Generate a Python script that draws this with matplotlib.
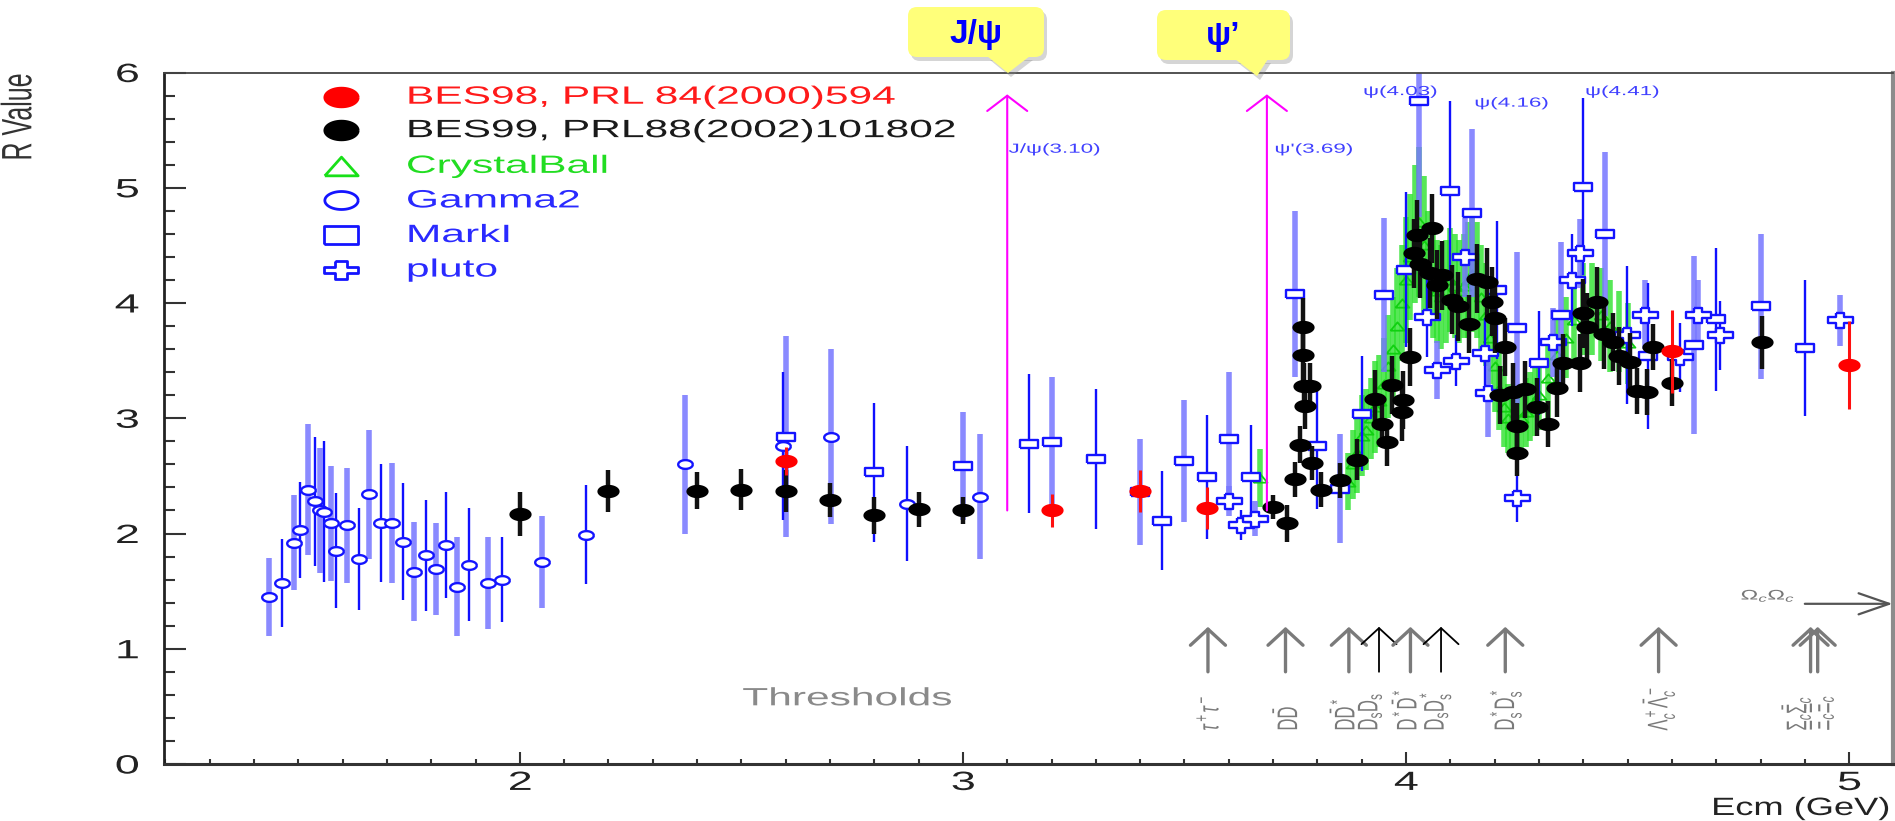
import numpy as np
import matplotlib
matplotlib.use('Agg')
import matplotlib.pyplot as plt
import matplotlib.patheffects as pe
from matplotlib.transforms import Affine2D
from matplotlib.patches import FancyBboxPatch, Polygon

plt.rcParams['font.family'] = ['Liberation Sans', 'DejaVu Sans']
plt.rcParams['mathtext.fontset'] = 'custom'
plt.rcParams['mathtext.rm'] = 'Liberation Sans'
plt.rcParams['mathtext.it'] = 'Liberation Sans:italic'
plt.rcParams['mathtext.bf'] = 'Liberation Sans:bold'

# ---------------- data ----------------
gamma2_x = [1.434, 1.463, 1.490, 1.505, 1.522, 1.538, 1.548, 1.557, 1.574, 1.585, 1.610,
            1.636, 1.660, 1.687, 1.712, 1.736, 1.762, 1.788, 1.810, 1.833, 1.858, 1.885,
            1.929, 1.959, 2.050, 2.150, 2.372, 2.593, 2.703, 2.873, 3.039]
gamma2_r = [1.45, 1.57, 1.92, 2.03, 2.38, 2.28, 2.20, 2.19, 2.09, 1.85, 2.07,
            1.78, 2.34, 2.09, 2.09, 1.93, 1.67, 1.81, 1.69, 1.90, 1.54, 1.73,
            1.57, 1.60, 1.75, 1.99, 2.60, 2.76, 2.84, 2.26, 2.32]
gamma2_err = [0.34, 0.38, 0.41, 0.42, 0.57, 0.56, 0.54, 0.61, 0.50, 0.50, 0.50,
              0.44, 0.56, 0.51, 0.52, 0.51, 0.43, 0.48, 0.40, 0.46, 0.43, 0.49,
              0.40, 0.37, 0.40, 0.43, 0.60, 0.64, 0.76, 0.50, 0.54]

markI_x = [2.60, 2.80, 3.00, 3.15, 3.20, 3.30, 3.40, 3.45, 3.50, 3.55, 3.60, 3.65,
           3.75, 3.80, 3.85, 3.90, 3.95, 4.00, 4.03, 4.10, 4.15, 4.205, 4.25, 4.30,
           4.35, 4.40, 4.45, 4.545, 4.65, 4.70, 4.80, 4.90]
markI_r = [2.84, 2.53, 2.585, 2.78, 2.79, 2.645, 2.36, 2.11, 2.63, 2.49, 2.82, 2.49,
           4.08, 2.76, 2.39, 3.04, 4.07, 4.29, 5.75, 4.97, 4.78, 4.11, 3.78, 3.48,
           3.90, 5.01, 4.60, 3.54, 3.635, 3.86, 3.97, 3.61]
markI_err = [0.87, 0.60, 0.47, 0.60, 0.57, 0.61, 0.46, 0.43, 0.53, 0.54, 0.58, 0.45,
             0.72, 0.55, 0.47, 0.50, 0.67, 0.67, 1.00, 0.78, 0.73, 0.60, 0.66, 0.45,
             0.63, 0.77, 0.71, 0.63, 0.77, 0.62, 0.63, 0.59]

pluto_x = [3.600, 3.628, 3.659, 4.047, 4.069, 4.113, 4.133, 4.178, 4.186, 4.250,
           4.331, 4.374, 4.392, 4.498, 4.540, 4.618, 4.660, 4.709, 4.980]
pluto_r = [2.28, 2.07, 2.13, 3.88, 3.42, 3.50, 4.40, 3.57, 3.22, 2.31,
           3.66, 4.20, 4.43, 3.72, 3.90, 3.53, 3.90, 3.72, 3.85]
pluto_err = [0.13, 0.13, 0.15, 0.35, 0.25, 0.22, 0.35, 0.30, 0.38, 0.21,
             0.30, 0.40, 0.30, 0.60, 0.30, 0.30, 0.30, 0.30, 0.22]

cb_x = [3.671, 3.87, 3.88, 3.89, 3.90, 3.91, 3.92, 3.93, 3.94, 3.95, 3.96, 3.97, 3.98,
        3.99, 4.00, 4.01, 4.02, 4.03, 4.04, 4.05, 4.06, 4.07, 4.08, 4.09, 4.10,
        4.11, 4.12, 4.13, 4.14, 4.15, 4.16, 4.17, 4.18, 4.19, 4.20, 4.21, 4.22,
        4.23, 4.24, 4.25, 4.26, 4.27, 4.28, 4.29, 4.30, 4.32, 4.34, 4.36, 4.38,
        4.40, 4.42, 4.44, 4.46, 4.48, 4.50]
cb_r = [2.48, 2.45, 2.60, 2.70, 2.85, 2.90, 3.00, 3.10, 3.15, 3.30, 3.45, 3.60, 3.80,
        4.00, 4.20, 4.40, 4.60, 4.70, 4.50, 4.30, 4.15, 4.10, 4.05, 4.10, 4.20,
        4.15, 4.10, 4.15, 4.20, 4.25, 4.20, 4.05, 3.90, 3.70, 3.45, 3.25, 3.10,
        3.00, 2.95, 2.95, 3.00, 3.05, 3.10, 3.15, 3.20, 3.35, 3.55, 3.70, 3.85,
        3.95, 3.95, 3.90, 3.80, 3.75, 3.65]
cb_err = [0.25, 0.25, 0.30, 0.35, 0.35, 0.35, 0.35, 0.40, 0.40, 0.40, 0.45, 0.45, 0.50,
          0.50, 0.55, 0.55, 0.60, 0.65, 0.60, 0.50, 0.45, 0.45, 0.45, 0.45, 0.45,
          0.45, 0.45, 0.45, 0.50, 0.50, 0.50, 0.45, 0.45, 0.40, 0.40, 0.35, 0.35,
          0.30, 0.30, 0.30, 0.30, 0.30, 0.30, 0.30, 0.30, 0.35, 0.35, 0.35, 0.40,
          0.40, 0.40, 0.40, 0.40, 0.35, 0.35]

bes99_x = [2.00, 2.20, 2.40, 2.50, 2.60, 2.70, 2.80, 2.90, 3.00,
           3.699, 3.731, 3.750, 3.760, 3.768, 3.768, 3.770, 3.772, 3.784, 3.787, 3.808,
           3.850, 3.890, 3.930, 3.945, 3.957, 3.968, 3.990, 3.994, 4.009, 4.017, 4.024,
           4.032, 4.054, 4.058, 4.069, 4.081, 4.103, 4.118, 4.141, 4.160, 4.182, 4.194,
           4.201, 4.212, 4.224, 4.242, 4.250, 4.250, 4.269, 4.295, 4.321, 4.340, 4.355,
           4.393, 4.400, 4.408, 4.430, 4.446, 4.468, 4.480, 4.506, 4.521, 4.543, 4.558,
           4.600, 4.803]
bes99_r = [2.17, 2.37, 2.37, 2.38, 2.37, 2.29, 2.16, 2.21, 2.20,
           2.23, 2.09, 2.47, 2.77, 3.79, 3.55, 3.28, 3.11, 3.28, 2.61, 2.38,
           2.46, 2.64, 3.17, 2.95, 2.79, 3.29, 3.05, 3.16, 3.53, 4.43, 4.59,
           4.34, 4.26, 4.65, 4.16, 4.24, 4.03, 3.97, 3.82, 4.21, 4.18, 4.01,
           3.87, 3.20, 3.62, 3.23, 2.93, 2.70, 3.25, 3.10, 2.95, 3.26, 3.48,
           3.48, 3.91, 3.79, 4.01, 3.73, 3.66, 3.54, 3.49, 3.24, 3.23, 3.62,
           3.31, 3.66]
bes99_err = [0.19, 0.18, 0.16, 0.18, 0.18, 0.15, 0.16, 0.15, 0.12,
             0.10, 0.16, 0.15, 0.16, 0.25, 0.25, 0.20, 0.20, 0.20, 0.15, 0.15,
             0.15, 0.18, 0.25, 0.20, 0.20, 0.25, 0.25, 0.25, 0.25, 0.30, 0.30,
             0.30, 0.30, 0.30, 0.30, 0.30, 0.30, 0.30, 0.25, 0.30, 0.30, 0.30,
             0.30, 0.25, 0.25, 0.25, 0.20, 0.20, 0.25, 0.25, 0.20, 0.25, 0.25,
             0.25, 0.30, 0.30, 0.30, 0.30, 0.25, 0.25, 0.25, 0.20, 0.20, 0.20,
             0.20, 0.23]

bes98_x = [2.60, 3.20, 3.40, 3.55, 4.60, 5.00]
bes98_r = [2.63, 2.20, 2.37, 2.22, 3.58, 3.46]
bes98_err = [0.12, 0.14, 0.18, 0.18, 0.36, 0.38]

legend_labels = ['BES98, PRL 84(2000)594', 'BES99, PRL88(2002)101802', 'CrystalBall',
                 'Gamma2', 'MarkI', 'pluto']

psi_lines = [3.10, 3.686]
psi_labels = ["J/\u03c8(3.10)", "\u03c8'(3.69)", "\u03c8(4.03)", "\u03c8(4.16)", "\u03c8(4.41)"]
psi_label_x = [3.103, 3.703, 3.903, 4.154, 4.404]
psi_label_y = [5.33, 5.33, 5.83, 5.73, 5.83]

thr_x = [3.553, 3.728, 3.871, 3.939, 4.010, 4.079, 4.224, 4.570, 4.913, 4.929]
thr_dark = [False, False, False, True, False, True, False, False, False, False]
thr_labels = [r'$\tau^+\tau^-$', r'$\mathrm{D\bar{D}}$', r'$\mathrm{D\bar{D}^*}$',
              r'$\mathrm{D_sD_s}$', r'$\mathrm{D^*\bar{D}^*}$', r'$\mathrm{D_sD_s^*}$',
              r'$\mathrm{D_s^*D_s^*}$', r'$\Lambda_c^+\bar{\Lambda}_c^-$',
              r'$\Sigma_c\bar{\Sigma}_c$', r'$\Xi_c\bar{\Xi}_c$']
thr_label_x = [3.553, 3.728, 3.857, 3.918, 3.997, 4.066, 4.225, 4.570, 4.880, 4.932]


class Stretch(pe.AbstractPathEffect):
    """draw text widened horizontally, as in the (stretched) original picture"""
    def __init__(self, sx=1.7, anchor=0.0):
        super().__init__()
        self.sx = sx
        self.anchor = anchor

    def draw_path(self, renderer, gc, tpath, affine, rgbFace=None):
        if len(tpath.vertices) == 0:
            return
        v = affine.transform(tpath.vertices)
        x0, x1 = v[:, 0].min(), v[:, 0].max()
        xa = x0 + self.anchor * (x1 - x0)
        tr = affine + Affine2D().translate(-xa, 0).scale(self.sx, 1).translate(xa, 0)
        renderer.draw_path(gc, tpath, tr, rgbFace)


def ellipse(a):
    t = np.linspace(0, 2 * np.pi, 49)
    return np.column_stack([np.cos(t), a * np.sin(t)])


def rect(a):
    return np.array([[-1, -a], [1, -a], [1, a], [-1, a], [-1, -a]])


def plus(a, t=0.34):
    p = np.array([[-t, 1], [t, 1], [t, t], [1, t], [1, -t], [t, -t], [t, -1], [-t, -1],
                  [-t, -t], [-1, -t], [-1, t], [-t, t], [-t, 1]])
    return p * [1, a]


def tri(a):
    return np.array([[-1, -a], [1, -a], [0, a], [-1, -a]])


SX = 1.7
fig = plt.figure(figsize=(18.95, 8.21), dpi=100)
ax = fig.add_axes([164 / 1895, 1 - 764 / 821, 1729 / 1895, 691.5 / 821])
ax.set_xlim(1.197, 5.099)
ax.set_ylim(0, 6)

# CrystalBall
cx, cy, ce = map(np.asarray, (cb_x, cb_r, cb_err))
ax.vlines(cx, cy - ce, cy + ce, color='#1fe01f', lw=4, alpha=0.75, zorder=1.5)
ax.plot(cx, cy, ls='none', marker=tri(0.6), ms=10, mfc='none', mec='#10d010', mew=1.3, zorder=1.6)


def blue_series(x, y, e, marker, ms):
    x, y, e = map(np.asarray, (x, y, e))
    k = np.arange(len(x)) % 2 == 0
    ax.vlines(x[k], y[k] - e[k], y[k] + e[k], color='#7676ff', lw=4, alpha=0.85, zorder=2)
    ax.vlines(x[~k], y[~k] - e[~k], y[~k] + e[~k], color='#1010ff', lw=1.7, zorder=2.1)
    ax.plot(x, y, ls='none', marker=marker, ms=ms, mfc='white', mec='#1414ff', mew=1.7, zorder=3)


blue_series(gamma2_x, gamma2_r, gamma2_err, ellipse(0.6), 10.5)
blue_series(markI_x, markI_r, markI_err, rect(0.5), 12.5)
blue_series(pluto_x, pluto_r, pluto_err, plus(0.6), 18)

bx, by, be = map(np.asarray, (bes99_x, bes99_r, bes99_err))
ax.vlines(bx, by - be, by + be, color='#111111', lw=3.2, zorder=4)
ax.plot(bx, by, ls='none', marker=ellipse(0.6), ms=16, mfc='black', mec='black', mew=0, zorder=5)

rx, ry, re = map(np.asarray, (bes98_x, bes98_r, bes98_err))
ax.vlines(rx, ry - re, ry + re, color='#ff1010', lw=2.2, zorder=6)
ax.plot(rx, ry, ls='none', marker=ellipse(0.6), ms=16, mfc='#ff0000', mec='#ff0000', mew=0, zorder=7)

# legend drawn by hand
leg_y = [5.79, 5.50, 5.19, 4.89, 4.59, 4.29]
leg_col = ['#ff1a1a', '#1a1a1a', '#22dd22', '#2a2aff', '#2a2aff', '#2a2aff']
leg_mk = [ellipse(0.56), ellipse(0.56), tri(0.56), ellipse(0.54), rect(0.52), plus(0.52)]
leg_fill = ['#ff0000', 'black', 'white', 'white', 'white', 'white']
leg_edge = ['#ff0000', 'black', '#18e018', '#1414ff', '#1414ff', '#1414ff']
for yy, lab, c, mk, fc, ec in zip(leg_y, legend_labels, leg_col, leg_mk, leg_fill, leg_edge):
    ax.plot([1.596], [yy], ls='none', marker=mk, ms=24, mfc=fc, mec=ec, mew=2, zorder=8)
    ax.text(1.743, yy, lab, color=c, fontsize=18, ha='left', va='center',
            path_effects=[Stretch(SX, 0)], zorder=8)

# J/psi and psi' arrows
for xp in psi_lines:
    ax.annotate('', xy=(xp, 5.81), xytext=(xp, 2.2),
                arrowprops=dict(arrowstyle='->,head_width=0.72,head_length=0.55',
                                color='#ff00ff', lw=1.5, shrinkA=0, shrinkB=0,
                                mutation_scale=20), zorder=9)
for lab, xx, yy in zip(psi_labels, psi_label_x, psi_label_y):
    ax.text(xx, yy, lab, fontsize=9.5, color='#4040ff', ha='left', va='center',
            path_effects=[Stretch(SX, 0)], zorder=9)

# thresholds
for xx, dark in zip(thr_x, thr_dark):
    ax.annotate('', xy=(xx, 1.19), xytext=(xx, 0.80),
                arrowprops=dict(arrowstyle='->,head_width=0.63,head_length=0.58',
                                color='black' if dark else '#7a7a7a',
                                lw=1.3 if dark else 2.4, shrinkA=0, shrinkB=0,
                                mutation_scale=20), zorder=9)
for lab, xx in zip(thr_labels, thr_label_x):
    ax.text(xx, 0.29, lab, rotation=90, fontsize=12, color='#7a7a7a', ha='center',
            va='bottom', path_effects=[Stretch(SX, 0.5)], zorder=9)
ax.annotate('', xy=(5.098, 1.39), xytext=(4.90, 1.39), annotation_clip=False,
            arrowprops=dict(arrowstyle='->,head_width=0.38,head_length=1.1',
                            color='#555555', lw=1.6, shrinkA=0, shrinkB=0,
                            mutation_scale=20), zorder=9)
ax.text(4.755, 1.46, r'$\Omega_c\Omega_c$', fontsize=10, color='#777777', ha='left',
        va='center', path_effects=[Stretch(SX, 0)])
ax.text(2.502, 0.57, 'Thresholds', fontsize=18, color='#8a8a8a', ha='left', va='center',
        path_effects=[Stretch(SX, 0)])

# axes cosmetics
ax.set_xticks([2, 3, 4, 5])
ax.set_xticks(np.arange(1.2, 5.1, 0.1), minor=True)
ax.set_yticks(range(7))
ax.set_yticks(np.arange(0, 6.01, 0.2), minor=True)
ax.tick_params(axis='x', which='major', direction='in', length=8.5, width=1.5, pad=5,
               labelsize=19, color='#333333', labelcolor='#222222')
ax.tick_params(axis='x', which='minor', direction='in', length=3.5, width=1.5, color='#333333')
ax.tick_params(axis='y', which='major', direction='in', length=16, width=1.5, pad=18,
               labelsize=19, color='#333333', labelcolor='#222222')
ax.tick_params(axis='y', which='minor', direction='in', length=8, width=1.5, color='#333333')
for t in ax.get_xticklabels():
    t.set_path_effects([Stretch(SX, 0.5)])
for t in ax.get_yticklabels():
    t.set_path_effects([Stretch(SX, 1.0)])
ax.spines['left'].set_linewidth(2)
ax.spines['bottom'].set_linewidth(2.2)
ax.spines['left'].set_color('#222222')
ax.spines['bottom'].set_color('#333333')
ax.spines['top'].set_linewidth(1.3)
ax.spines['top'].set_color('#444444')
ax.spines['right'].set_linewidth(3)
ax.spines['right'].set_color('#8c8c8c')

ax.set_ylabel('R Value', fontsize=18, color='#333333', ha='center', va='center',
              path_effects=[Stretch(SX, 0.5)])
ax.yaxis.set_label_coords(-0.0844, 0.9356)
ax.set_xlabel('Ecm (GeV)', fontsize=18, color='#222222', ha='right', va='center',
              path_effects=[Stretch(1.45, 1.0)])
ax.xaxis.set_label_coords(0.998, -0.0636)

# yellow call-out boxes above the frame
ov = fig.add_axes([0, 0, 1, 1], zorder=10)
ov.set_xlim(0, 1895)
ov.set_ylim(821, 0)
ov.set_axis_off()
ov.patch.set_alpha(0)
callouts = [('J/\u03c8', 908, 1044, 7, 57, 987, 1030, 1008, 73, 976, 34),
            ('\u03c8\u2019', 1157, 1290, 10, 60, 1235, 1268, 1257, 76, 1223, 37)]
for lab, x0, x1, y0, y1, b0, b1, tx, ty, lx, ly in callouts:
    for dx, dy, col, al in [(3, 4, '#888888', 0.35), (0, 0, '#ffff7a', 1.0)]:
        ov.add_patch(FancyBboxPatch((x0 + dx, y0 + dy), x1 - x0, y1 - y0,
                                    boxstyle='round,pad=0,rounding_size=9',
                                    fc=col, ec='none', alpha=al))
        ov.add_patch(Polygon([(b0 + dx, y1 - 1 + dy), (b1 + dx, y1 - 1 + dy), (tx + dx, ty + dy)],
                             closed=True, fc=col, ec='none', alpha=al))
    ov.text(lx, ly, lab, fontsize=24, fontweight='bold', color='#0000ff', ha='center', va='center')

fig.savefig('out.png', dpi=100, facecolor='white')
